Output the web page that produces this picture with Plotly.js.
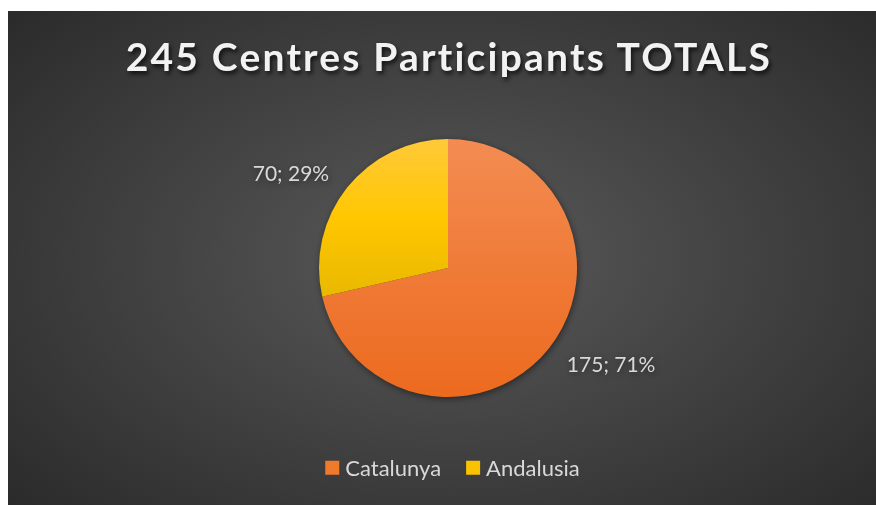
<!DOCTYPE html>
<html>
<head>
<meta charset="utf-8">
<script src="https://cdn.plot.ly/plotly-3.0.1.min.js"></script>
<style>
  html, body { margin: 0; padding: 0; background: #ffffff; width: 876px; height: 505px; overflow: hidden; }
  #bg { position: absolute; left: 8px; top: 11px; width: 868px; height: 494px;
        background: radial-gradient(ellipse 70% 75% at 51% 50%, #5a5a5a 0%, #444444 45%, #2a2a2a 100%); }
  #chart { position: absolute; left: 8px; top: 11px; width: 868px; height: 494px; }
</style>
</head>
<body>
<div id="bg"></div>
<div id="chart"></div>
<script>
const categories = ["Catalunya", "Andalusia"];
const values = [175, 70];
const titleText = "245 Centres Participants TOTALS";
const sliceColors = ["#F07A2C", "#FBC200"];

const trace = {
  type: "pie",
  labels: categories,
  values: values,
  sort: false,
  direction: "clockwise",
  rotation: 0,
  marker: { colors: sliceColors, line: { width: 0 } },
  textinfo: "value+percent",
  texttemplate: "%{value}; %{percent:.0%}",
  textposition: "outside",
  outsidetextfont: { family: "Lato, 'Open Sans', sans-serif", size: 21, color: "#d9d9d9" },
  hoverinfo: "none",
  showlegend: true
};

const layout = {
  width: 868, height: 494,
  paper_bgcolor: "rgba(0,0,0,0)",
  plot_bgcolor: "rgba(0,0,0,0)",
  margin: { l: 12, r: 0, t: 128, b: 108 },
  title: {
    text: titleText,
    x: 0.508, xref: "container", xanchor: "center",
    y: 0.907, yref: "container", yanchor: "middle",
    font: { family: "Lato, 'Open Sans', sans-serif", size: 39, weight: 700, color: "#f2f2f2",
            shadow: "2px 3px 4px rgba(0,0,0,0.7)" }
  },
  legend: {
    orientation: "h", x: 0.505, xanchor: "center", y: -0.275, yanchor: "middle",
    font: { family: "Lato, 'Open Sans', sans-serif", size: 22, color: "#d9d9d9" },
    bgcolor: "rgba(0,0,0,0)", itemwidth: 30, traceorder: "normal"
  },
  showlegend: true
};

Plotly.newPlot("chart", [trace], layout, { displayModeBar: false, staticPlot: true }).then(function (gd) {
  const svg = gd.querySelector("svg.main-svg");
  const ns = "http://www.w3.org/2000/svg";
  let defs = svg.querySelector("defs");
  if (!defs) { defs = document.createElementNS(ns, "defs"); svg.insertBefore(defs, svg.firstChild); }
  const grads = [
    ["gCat", [["0%", "#F38C52"], ["100%", "#EC6A1E"]]],
    ["gAnd", [["0%", "#FFC93A"], ["50%", "#FFC700"], ["100%", "#E9B800"]]]
  ];
  grads.forEach(function (g) {
    const lg = document.createElementNS(ns, "linearGradient");
    lg.setAttribute("id", g[0]);
    lg.setAttribute("x1", "0"); lg.setAttribute("y1", "0");
    lg.setAttribute("x2", "0"); lg.setAttribute("y2", "1");
    g[1].forEach(function (s) {
      const st = document.createElementNS(ns, "stop");
      st.setAttribute("offset", s[0]); st.setAttribute("stop-color", s[1]);
      lg.appendChild(st);
    });
    defs.appendChild(lg);
  });
  gd.querySelectorAll(".pielayer path.surface").forEach(function (p, i) {
    p.style.fill = "url(#" + grads[i][0] + ")";
  });
  const pie = gd.querySelector(".pielayer");
  if (pie) pie.style.filter = "drop-shadow(1px 2px 3px rgba(0,0,0,0.45))";

  // push outside labels a little further out along each slice's mid-angle
  const total = values.reduce(function (a, b) { return a + b; }, 0);
  let cum = 0;
  gd.querySelectorAll(".pielayer g.slice").forEach(function (s, i) {
    const mid = (cum + values[i] / 2) / total * 2 * Math.PI;
    cum += values[i];
    const t = s.querySelector("g.slicetext");
    if (!t) return;
    const dx = 15 * Math.sin(mid), dy = -17 * Math.cos(mid);
    const old = t.getAttribute("transform") || "";
    t.setAttribute("transform", "translate(" + dx + "," + dy + ") " + old);
  });

  // title letter spacing
  const tt = gd.querySelector("text.gtitle");
  if (tt) tt.style.letterSpacing = "2.2px";

  // legend: bigger square markers, text closer to marker
  gd.querySelectorAll(".legend g.traces").forEach(function (g, i) {
    const p = g.querySelector("path.legendpie");
    if (p) p.setAttribute("d", "M7,7H-7V-7H7Z");
    const tx = g.querySelector("text.legendtext");
    if (tx) tx.setAttribute("x", "33");
  });
});
</script>
</body>
</html>
